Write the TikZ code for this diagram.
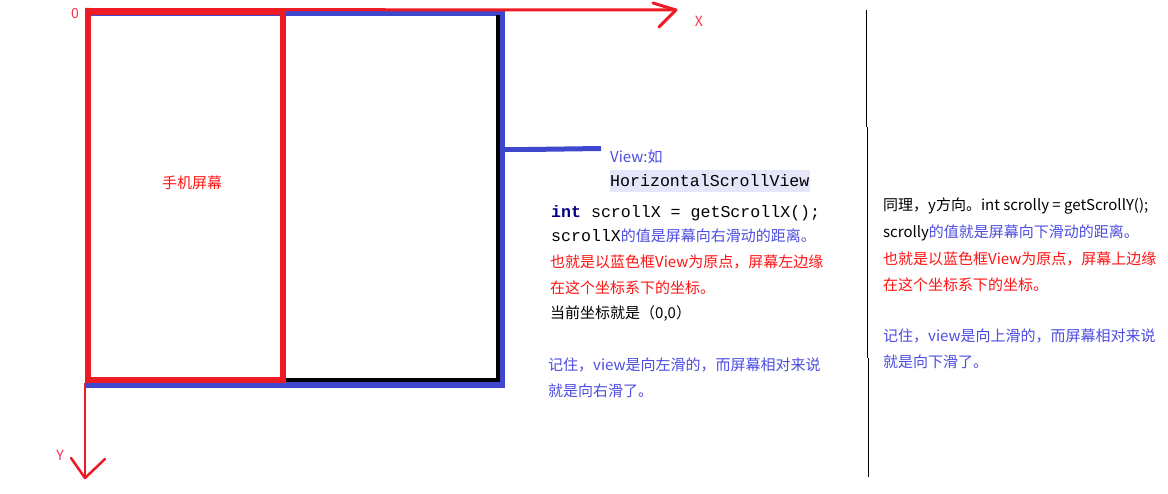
\documentclass[tikz,border=0pt]{standalone}
\usepackage{fontspec}
\setmainfont{Noto Sans CJK SC}
\newfontfamily\cjk{Noto Sans CJK SC}
\newfontfamily\mono{Liberation Mono}
\definecolor{paintred}{RGB}{237,28,36}
\definecolor{paintblue}{RGB}{63,72,204}
\definecolor{txtblue}{RGB}{77,77,225}
\definecolor{txtred}{RGB}{255,20,20}
\definecolor{navy}{RGB}{0,0,128}
\definecolor{lav}{RGB}{230,230,250}
\definecolor{lblred}{RGB}{250,50,70}
\tikzset{
  txt/.style={inner sep=0pt, anchor=base west, font=\cjk\fontsize{15}{17}\selectfont},
  axlbl/.style={inner sep=0pt, text=lblred, font=\cjk\fontsize{14}{16}\selectfont},
}
\newcommand{\mcode}[1]{{\mono\fontsize{16.6}{18}\selectfont #1}}
\begin{document}
\begin{tikzpicture}[x=1pt,y=-1pt]
\useasboundingbox[fill=white] (0,0) rectangle (1168,494);
% blue view rectangle
\draw[paintblue, line width=6pt] (88,13) rectangle (502,385);
% black inner shadow
\draw[black, line width=4pt] (497.5,15) -- (497.5,380) -- (286,380);
% blue stub
\coordinate (s0) at (505,149.5);
\coordinate (s1) at (528,149.5);
\coordinate (s2) at (601,148.5);
\draw[paintblue, line width=5pt] (s0) -- (s1);
\draw[paintblue, line width=5pt] (s1) -- (s2);
% x axis
\coordinate (o) at (85,9.5);
\coordinate (xe) at (676,10);
\draw[paintred, line width=3pt] (o) -- (xe);
\draw[paintred, line width=3pt, line cap=round, line join=round] (653,3) -- (xe) -- (659,27);
% y axis
\coordinate (yo) at (85,383);
\coordinate (ye) at (85,478);
\draw[paintred, line width=2pt] (yo) -- (ye);
\draw[paintred, line width=2.5pt, line cap=round, line join=round] (71,458) -- (ye) -- (105,459);
% red screen rectangle
\draw[paintred, line width=6pt] (88,12) rectangle (283,380);
% axis labels
\node[axlbl] (l0) at (75,14) {0};
\node[axlbl] (lx) at (699,21) {X};
\node[axlbl] (ly) at (60,455) {Y};
% separator
\draw[black, line width=1pt] (866,10) -- (866,127);
\draw[black, line width=1pt] (867,127) -- (867,358);
\draw[black, line width=1pt] (868,358) -- (868,477);
% screen label
\node[txt, anchor=center, text=txtred] (screen) at (192,183) {手机屏幕};
% middle text
\fill[lav] (610,170) rectangle (810,192);
\node[txt, text=txtblue] (t1) at (610,163) {View:如};
\node[txt] (t2) at (610,187) {\mcode{HorizontalScrollView}};
\node[txt] (t3) at (551,218) {\mcode{\textcolor{navy}{\textbf{int}} scrollX = getScrollX();}};
\node[txt] (t4) at (551,242) {\mcode{scrollX}\textcolor{txtblue}{的值是屏幕向右滑动的距离。}};
\node[txt, text=txtred] (t5) at (550,268) {也就是以蓝色框View为原点，屏幕左边缘};
\node[txt, text=txtred] (t6) at (550,294) {在这个坐标系下的坐标。};
\node[txt] (t7) at (550,319) {当前坐标就是（0,0）};
\node[txt, text=txtblue] (t8) at (548,371) {记住，view是向左滑的，而屏幕相对来说};
\node[txt, text=txtblue] (t9) at (548,397) {就是向右滑了。};
% right text
\node[txt] (r1) at (883,211) {同理，y方向。int scrolly = getScrollY();};
\node[txt] (r2) at (883,238) {scrolly\textcolor{txtblue}{的值就是屏幕向下滑动的距离。}};
\node[txt, text=txtred] (r3) at (883,265) {也就是以蓝色框View为原点，屏幕上边缘};
\node[txt, text=txtred] (r4) at (883,291) {在这个坐标系下的坐标。};
\node[txt, text=txtblue] (r5) at (883,342) {记住，view是向上滑的，而屏幕相对来说};
\node[txt, text=txtblue] (r6) at (883,368) {就是向下滑了。};
\end{tikzpicture}
\end{document}
